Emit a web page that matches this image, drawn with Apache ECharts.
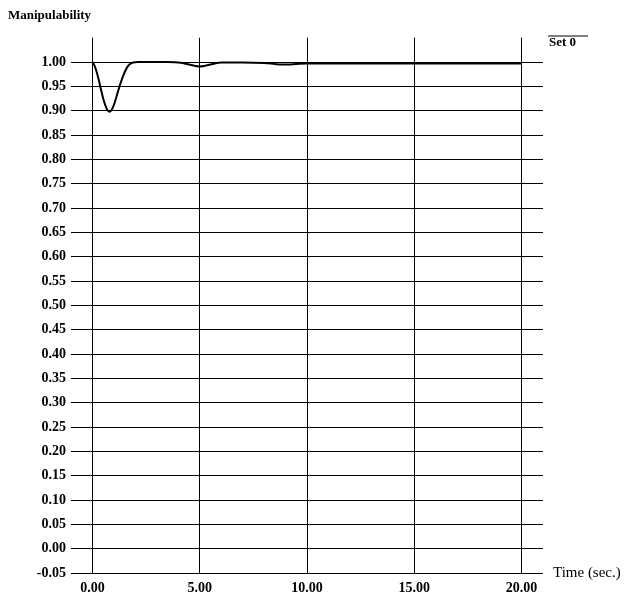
<!DOCTYPE html>
<html>
<head>
<meta charset="utf-8">
<script src="https://cdn.jsdelivr.net/npm/echarts@6/dist/echarts.min.js"></script>
<style>html,body{margin:0;padding:0;background:#fff;}#c{width:630px;height:599px;}</style>
</head>
<body>
<div id="c"></div>
<script>
var seriesName = "Set 0";
var yTitle = "Manipulability";
var xTitle = "Time (sec.)";
var xTicks = [0, 5, 10, 15, 20];
var timeValues = [0, 0.1, 0.2, 0.3, 0.4, 0.5, 0.6, 0.7, 0.8, 0.9, 1.0, 1.1, 1.2, 1.3, 1.4, 1.5, 1.6, 1.7, 1.8, 1.9, 2.1, 2.5, 3.0, 3.5, 4.0, 4.2, 4.4, 4.6, 4.8, 5.0, 5.2, 5.4, 5.6, 5.8, 6.0, 7.0, 8.0, 8.5, 8.8, 9.1, 9.5, 10, 11, 12, 13, 14, 15, 16, 17, 18, 19, 20];
var manipValues = [1.0, 0.992, 0.979, 0.962, 0.943, 0.925, 0.911, 0.901, 0.898, 0.902, 0.912, 0.926, 0.941, 0.955, 0.968, 0.979, 0.988, 0.994, 0.997, 0.999, 1.0, 1.0, 1.0, 1.0, 0.999, 0.998, 0.996, 0.994, 0.992, 0.991, 0.992, 0.994, 0.996, 0.998, 0.999, 0.999, 0.998, 0.996, 0.995, 0.995, 0.996, 0.997, 0.997, 0.997, 0.997, 0.997, 0.997, 0.997, 0.997, 0.997, 0.997, 0.997];

var data = timeValues.map(function (t, i) { return [t, manipValues[i]]; });
var font = "Liberation Serif";
var chart = echarts.init(document.getElementById('c'));
chart.setOption({
  animation: false,
  backgroundColor: '#fff',
  grid: { left: 71, right: 87, top: 37.7, bottom: 26 },
  xAxis: {
    type: 'value', min: -1, max: 21,
    axisLine: { show: false }, axisTick: { show: false },
    splitLine: { show: false },
    axisLabel: { customValues: xTicks, formatter: function (v) { return v.toFixed(2); },
      color: '#000', fontFamily: font, fontWeight: 'bold', fontSize: 14, margin: 8 }
  },
  yAxis: {
    type: 'value', min: -0.05, max: 1.05, interval: 0.05,
    axisLine: { show: false }, axisTick: { show: false },
    splitLine: { show: true, showMaxLine: false, lineStyle: { color: '#000', width: 1.2 } },
    axisLabel: { showMaxLabel: false, formatter: function (v) { return v.toFixed(2); },
      color: '#000', fontFamily: font, fontWeight: 'bold', fontSize: 14, margin: 5 }
  },
  series: [{
    name: seriesName, type: 'line', data: data, smooth: 0.3, showSymbol: false,
    lineStyle: { color: '#000', width: 2 },
    markLine: {
      silent: true, symbol: ['none', 'none'], label: { show: false },
      lineStyle: { color: '#000', width: 1, type: 'solid' },
      data: xTicks.map(function (x) { return { xAxis: x }; })
    }
  }],
  graphic: [
    { type: 'text', left: 8, top: 9, style: { text: yTitle, font: 'bold 13px "Liberation Serif"', fill: '#000' } },
    { type: 'text', left: 553, top: 566, style: { text: xTitle, font: '15px "Liberation Serif"', fill: '#000' } },
    { type: 'line', shape: { x1: 548, y1: 36, x2: 588, y2: 36 }, style: { stroke: '#000', lineWidth: 1 } },
    { type: 'text', left: 549, top: 36, style: { text: seriesName, font: 'bold 13px "Liberation Serif"', fill: '#000' } }
  ]
});
</script>
</body>
</html>
